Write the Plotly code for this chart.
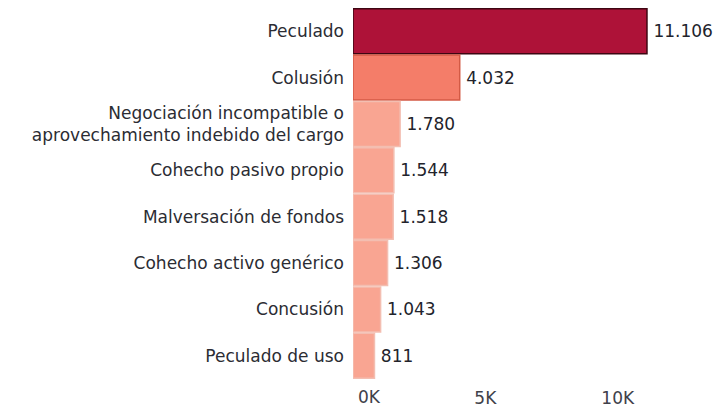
import plotly.graph_objects as go

categories = ["Peculado", "Colusión", "Negociación incompatible o<br>aprovechamiento indebido del cargo",
              "Cohecho pasivo propio", "Malversación de fondos", "Cohecho activo genérico",
              "Concusión", "Peculado de uso"]
values = [11106, 4032, 1780, 1544, 1518, 1306, 1043, 811]
tick_values = [0, 5000, 10000]
tick_labels = ["0K", "5K", "10K"]

fills = ["#AE1238", "#F47D69"] + ["#F9A592"] * 6
borders = ["#3e0612", "#D35A45"] + ["#F3BEB1"] * 6

FONT = "DejaVu Sans"
TICK_FONT = dict(size=17, color="#40414a", family=FONT)

fig = go.Figure(go.Bar(
    x=values, y=categories, orientation="h",
    marker=dict(color=fills, line=dict(color=borders, width=1.5)),
    texttemplate="\u2009%{x:,}", textposition="outside", cliponaxis=False,
    textfont=dict(size=17, color="#22232b", family=FONT),
    hoverinfo="skip",
))

# first tick label is kept inside the axis area (left-aligned), as in the reference
fig.add_annotation(x=tick_values[0], xref="x", y=0, yref="paper", yanchor="top",
                   xanchor="left", xshift=3, yshift=-6, text=tick_labels[0],
                   showarrow=False, font=TICK_FONT)

fig.update_layout(
    width=713, height=399,
    margin=dict(l=345, r=8, t=0, b=28),
    paper_bgcolor="white", plot_bgcolor="white",
    separators=",.",
    bargap=0.03,
    showlegend=False,
    font=dict(family=FONT, size=17, color="#2b2c33"),
)
fig.update_xaxes(range=[0, 13600], tickvals=tick_values[1:], ticktext=tick_labels[1:],
                 showgrid=False, zeroline=False, showline=False,
                 tickfont=TICK_FONT, ticks="", ticklabelstandoff=7)
fig.update_yaxes(autorange="reversed", showgrid=False, zeroline=False, showline=False,
                 ticks="", ticklabelstandoff=8, tickfont=dict(size=17, color="#2b2c33", family=FONT))

fig.write_html("out.html")
